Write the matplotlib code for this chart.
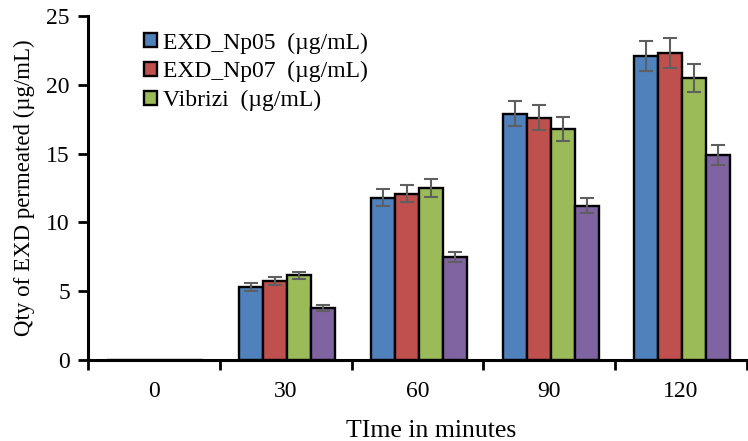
import matplotlib
matplotlib.use("Agg")
import matplotlib.pyplot as plt
import numpy as np

categories = ["0", "30", "60", "90", "120"]
series_names = ["EXD_Np05  (µg/mL)", "EXD_Np07  (µg/mL)", "Vibrizi  (µg/mL)", None]
np05 = [0, 5.3, 11.8, 17.9, 22.1]
np07 = [0, 5.75, 12.1, 17.6, 22.3]
vibrizi = [0, 6.15, 12.5, 16.8, 20.5]
fourth = [0, 3.8, 7.5, 11.2, 14.9]
err_np05 = [0, 0.28, 0.6, 0.9, 1.1]
err_np07 = [0, 0.27, 0.6, 0.9, 1.1]
err_vibrizi = [0, 0.27, 0.65, 0.85, 1.0]
err_fourth = [0, 0.22, 0.35, 0.55, 0.75]
colors = ["#4F81BD", "#C0504D", "#9BBB59", "#8064A2"]

plt.rcParams['font.family'] = ['Liberation Serif', 'DejaVu Serif']

fig = plt.figure(figsize=(7.48, 4.41), dpi=100)
ax = fig.add_axes([88/748, 81/441, 659/748, 344/441])

x = np.arange(len(categories))
w = 0.182
vals = [np05, np07, vibrizi, fourth]
errs = [err_np05, err_np07, err_vibrizi, err_fourth]
handles = []
for i, (v, e, c) in enumerate(zip(vals, errs, colors)):
    pos = x + (i - 1.5) * w + 0.01
    b = ax.bar(pos, v, width=w, color=c, edgecolor="black", linewidth=1.7, zorder=2)
    ax.errorbar(pos[1:], v[1:], yerr=e[1:], fmt="none", ecolor="#5f5f5f",
                elinewidth=1.5, capsize=5, capthick=1.5, zorder=3)
    if series_names[i]:
        handles.append((b, series_names[i]))

ax.set_xlim(-0.5, 4.5)
ax.set_ylim(0, 25)
ax.set_yticks([0, 5, 10, 15, 20, 25])
ax.set_xticks(np.arange(-0.5, 4.6, 1.0))
ax.set_xticklabels([])
ax.set_xticks(x, minor=True)
ax.set_xticklabels(categories, minor=True)
ax.tick_params(axis='x', which='minor', length=0, labelsize=17, pad=15)
ax.tick_params(axis='x', which='major', length=7, width=2, direction='out')
ax.tick_params(axis='y', length=7, width=2, direction='out', labelsize=17, pad=6)
for s in ["top", "right"]:
    ax.spines[s].set_visible(False)
for s in ["left", "bottom"]:
    ax.spines[s].set_linewidth(2.2)
    ax.spines[s].set_zorder(4)

ax.set_ylabel("Qty of EXD permeated (µg/mL)", fontsize=16.5, labelpad=8)
ax.set_xlabel("TIme in minutes", fontsize=18.5)
ax.xaxis.set_label_coords(0.52, -0.205)
ax.xaxis.label.set_va("center")

leg = ax.legend([h[0] for h in handles], [h[1] for h in handles],
                loc="upper left", bbox_to_anchor=(0.06, 1.0), frameon=False,
                fontsize=17, handlelength=0.55, handleheight=0.55, handletextpad=0.25,
                labelspacing=0.32, borderpad=0.2)

fig.savefig("out.png", dpi=100)
